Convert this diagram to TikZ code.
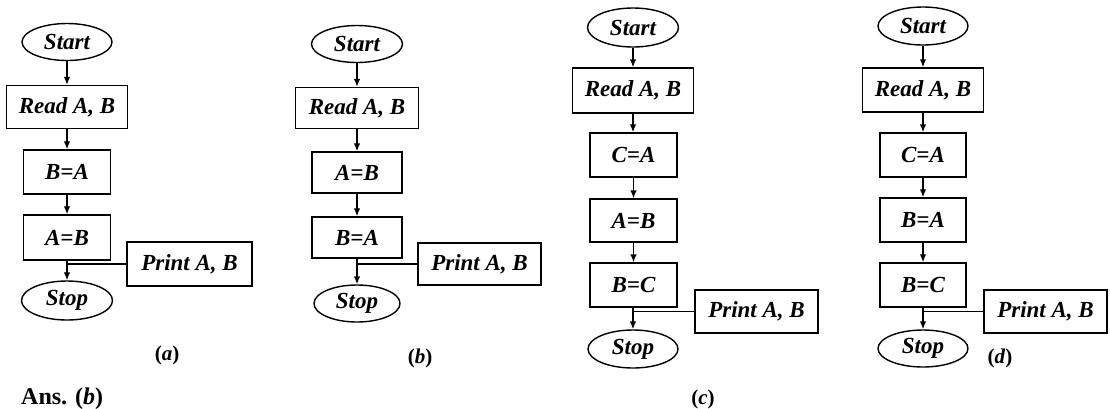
\documentclass[tikz,border=0pt]{standalone}
\usepackage{fontspec}
\setmainfont{Liberation Serif}
\usetikzlibrary{arrows.meta,shapes.geometric}
\newcommand\flowfont{\fontsize{23}{23}\selectfont\bfseries\itshape}
\newcommand\capfont{\fontsize{21}{21}\selectfont\bfseries}
\tikzset{
  box/.style 2 args={draw, line width=1.4pt, inner sep=0pt, font=\flowfont,
    minimum width=#1, minimum height=#2},
  term/.style 2 args={draw, ellipse, line width=1.4pt, inner sep=0pt, font=\flowfont,
    minimum width=#1, minimum height=#2},
  flow/.style={line width=1.4pt, -{Latex[length=8pt,width=6.5pt]}},
  tie/.style={line width=1.3pt},
  caption/.style={font=\capfont, inner sep=0pt}
}
\begin{document}
\begin{tikzpicture}[x=1pt,y=-1pt]
\useasboundingbox (0,0) rectangle (1110,408);

% ---- flowchart (a)
\node[term={90pt}{37pt}] (sA) at (67,42) {Start};
\node[box={121pt}{43pt}] (rA) at (67,107) {Read A, B};
\node[box={87pt}{44pt}] (p1A) at (67,172) {B=A};
\node[box={87pt}{45pt}] (p2A) at (67,237.5) {A=B};
\node[box={125pt}{44pt}] (oA) at (189.5,264) {Print A, B};
\node[term={91pt}{39pt}] (eA) at (67,300.5) {Stop};
\node[caption] (cA) at (167,355) {(\textit{a})};
\draw[flow] (sA) -- (rA);
\draw[flow] (rA) -- (p1A);
\draw[flow] (p1A) -- (p2A);
\draw[flow] (p2A) -- (eA);
\draw[tie] (oA.west) -- (oA.west -| p2A.south);

% ---- flowchart (b)
\node[term={91pt}{37pt}] (sB) at (357,44) {Start};
\node[box={123pt}{41pt}] (rB) at (357,108) {Read A, B};
\node[box={90pt}{41pt}] (p1B) at (357,172.5) {A=B};
\node[box={90pt}{41pt}] (p2B) at (357,237.5) {B=A};
\node[box={123pt}{42pt}] (oB) at (479.5,264) {Print A, B};
\node[term={86pt}{37pt}] (eB) at (357,303.5) {Stop};
\node[caption] (cB) at (420,358) {(\textit{b})};
\draw[flow] (sB) -- (rB);
\draw[flow] (rB) -- (p1B);
\draw[flow] (p1B) -- (p2B);
\draw[flow] (p2B) -- (eB);
\draw[tie] (oB.west) -- (oB.west -| p2B.south);

% ---- flowchart (c)
\node[term={91pt}{39pt}] (sC) at (633,27.5) {Start};
\node[box={121pt}{45pt}] (rC) at (633,90.5) {Read A, B};
\node[box={87pt}{44pt}] (p1C) at (633.5,155) {C=A};
\node[box={87pt}{43pt}] (p2C) at (633.5,220.5) {A=B};
\node[box={87pt}{44pt}] (p3C) at (633.5,285) {B=C};
\node[box={123pt}{43pt}] (oC) at (756.5,311.5) {Print A, B};
\node[term={90pt}{38pt}] (eC) at (633,349) {Stop};
\node[caption] (cC) at (703,399) {(\textit{c})};
\draw[flow] (sC) -- (rC);
\draw[flow] (rC) -- (rC |- p1C.north);
\draw[flow] (p1C) -- (p2C);
\draw[flow] (p2C) -- (p3C);
\draw[flow] (p3C.south -| eC) -- (eC);
\draw[tie] (oC.west) -- (oC.west -| eC.north);

% ---- flowchart (d)
\node[term={90pt}{38pt}] (sD) at (923,26) {Start};
\node[box={121pt}{44pt}] (rD) at (923,90) {Read A, B};
\node[box={86pt}{44pt}] (p1D) at (923,155) {C=A};
\node[box={86pt}{44pt}] (p2D) at (923,220) {B=A};
\node[box={86pt}{44pt}] (p3D) at (923,285) {B=C};
\node[box={123pt}{43pt}] (oD) at (1045.5,311.5) {Print A, B};
\node[term={90pt}{37pt}] (eD) at (923,348.5) {Stop};
\node[caption] (cD) at (1000,358) {(\textit{d})};
\draw[flow] (sD) -- (rD);
\draw[flow] (rD) -- (p1D);
\draw[flow] (p1D) -- (p2D);
\draw[flow] (p2D) -- (p3D);
\draw[flow] (p3D) -- (eD);
\draw[tie] (oD.west) -- (oD.west -| p3D.south);

% ---- answer line
\node[anchor=base west, inner sep=0pt, font=\fontsize{24}{24}\selectfont\bfseries] (ans) at (21,404) {Ans. (\textit{b})};
\end{tikzpicture}
\end{document}
